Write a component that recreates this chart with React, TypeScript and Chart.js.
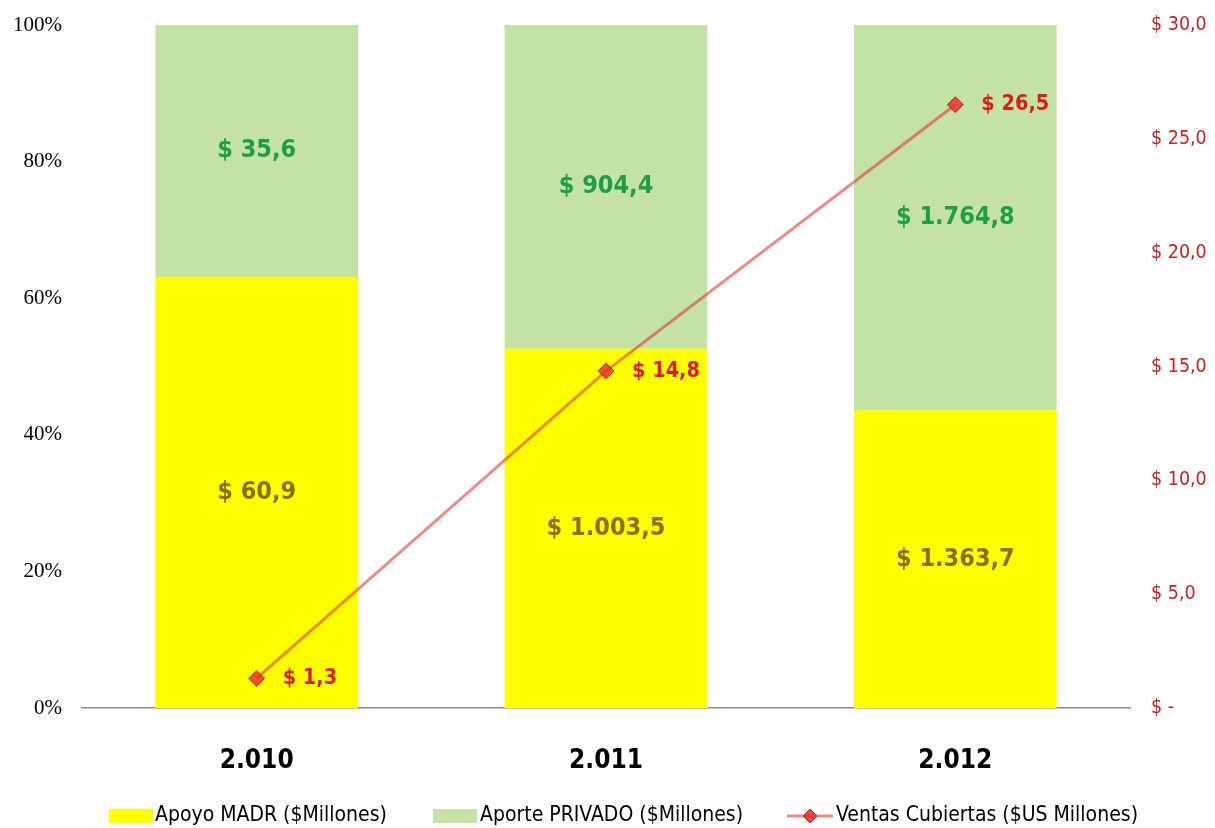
import React, { useEffect, useRef } from "react";
import { Chart, registerables } from "chart.js";

Chart.register(...registerables);

const categories = ["2.010", "2.011", "2.012"];
const apoyoMADR = [60.9, 1003.5, 1363.7];
const aportePrivado = [35.6, 904.4, 1764.8];
const ventasCubiertas = [1.3, 14.8, 26.5];
const apoyoLabels = ["$ 60,9", "$ 1.003,5", "$ 1.363,7"];
const privadoLabels = ["$ 35,6", "$ 904,4", "$ 1.764,8"];
const ventasLabels = ["$ 1,3", "$ 14,8", "$ 26,5"];
const legendLabels = [
  "Apoyo MADR ($Millones)",
  "Aporte PRIVADO ($Millones)",
  "Ventas Cubiertas ($US Millones)",
];

const SANS = "'Liberation Sans Narrow', 'DejaVu Sans Condensed', Lato, sans-serif";
const SERIF = "'Liberation Serif', 'DejaVu Serif', serif";

const totals = apoyoMADR.map((v, i) => v + aportePrivado[i]);
const apoyoPct = apoyoMADR.map((v, i) => (v / totals[i]) * 100);
const privadoPct = aportePrivado.map((v, i) => (v / totals[i]) * 100);

const labelsPlugin = {
  id: "customLabels",
  afterDatasetsDraw(chart: any) {
    const ctx = chart.ctx;
    ctx.save();
    ctx.textBaseline = "middle";
    const metaA = chart.getDatasetMeta(0);
    const metaP = chart.getDatasetMeta(1);
    ctx.font = `bold 25px ${SANS}`;
    ctx.textAlign = "center";
    metaA.data.forEach((el: any, i: number) => {
      const cy = (el.y + el.base) / 2;
      ctx.fillStyle = "#8E6C12";
      ctx.fillText(apoyoLabels[i], el.x, cy);
    });
    metaP.data.forEach((el: any, i: number) => {
      const cy = (el.y + el.base) / 2;
      ctx.fillStyle = "#1E9E4A";
      ctx.fillText(privadoLabels[i], el.x, cy);
    });
    ctx.restore();
  },
  afterDraw(chart: any) {
    const ctx = chart.ctx;
    ctx.save();
    ctx.textBaseline = "middle";
    const metaL = chart.getDatasetMeta(2);
    ctx.font = `bold 21.5px ${SANS}`;
    ctx.textAlign = "left";
    ctx.fillStyle = "#E01A1A";
    metaL.data.forEach((el: any, i: number) => {
      ctx.fillText(ventasLabels[i], el.x + 26, el.y);
    });

    // legend
    const ly = 816;
    ctx.font = `21px ${SANS}`;
    ctx.textAlign = "left";
    ctx.fillStyle = "#FFFF00";
    ctx.fillRect(109, ly - 7, 44, 14);
    ctx.fillStyle = "#000";
    ctx.fillText(legendLabels[0], 155, ly);
    ctx.fillStyle = "#C3E2A3";
    ctx.fillRect(433, ly - 7, 44, 14);
    ctx.fillStyle = "#000";
    ctx.fillText(legendLabels[1], 480, ly);
    ctx.strokeStyle = "rgba(225,60,60,0.6)";
    ctx.lineWidth = 3;
    ctx.beginPath();
    ctx.moveTo(787, ly);
    ctx.lineTo(833, ly);
    ctx.stroke();
    ctx.fillStyle = "rgba(228,40,40,0.85)";
    ctx.strokeStyle = "rgba(180,30,30,0.9)";
    ctx.lineWidth = 1;
    ctx.beginPath();
    ctx.moveTo(810, ly - 7);
    ctx.lineTo(817, ly);
    ctx.lineTo(810, ly + 7);
    ctx.lineTo(803, ly);
    ctx.closePath();
    ctx.fill();
    ctx.stroke();
    ctx.fillStyle = "#000";
    ctx.fillText(legendLabels[2], 836, ly);
    ctx.restore();
  },
};

export default function App() {
  const ref = useRef<HTMLCanvasElement | null>(null);
  useEffect(() => {
    document.body.style.margin = "0";
    const canvas = ref.current;
    if (!canvas) return;
    const chart = new Chart(canvas, {
      data: {
        labels: categories,
        datasets: [
          {
            type: "bar",
            label: legendLabels[0],
            data: apoyoPct,
            backgroundColor: "#FFFF00",
            yAxisID: "y",
            stack: "s",
            barPercentage: 0.58,
            categoryPercentage: 1,
            order: 2,
          },
          {
            type: "bar",
            label: legendLabels[1],
            data: privadoPct,
            backgroundColor: "#C3E2A3",
            yAxisID: "y",
            stack: "s",
            barPercentage: 0.58,
            categoryPercentage: 1,
            order: 2,
          },
          {
            type: "line",
            label: legendLabels[2],
            data: ventasCubiertas,
            yAxisID: "y1",
            borderColor: "rgba(225,60,60,0.6)",
            borderWidth: 3,
            pointStyle: "rectRot",
            pointRadius: 8,
            pointBackgroundColor: "rgba(232,40,40,0.8)",
            pointBorderColor: "rgba(180,30,30,0.9)",
            pointBorderWidth: 1,
            fill: false,
            order: 1,
          },
        ],
      } as any,
      options: {
        animation: false,
        responsive: false,
        maintainAspectRatio: false,
        layout: { padding: { top: 25, left: 0, right: 0, bottom: 0 } },
        plugins: { legend: { display: false }, tooltip: { enabled: false } },
        scales: {
          x: {
            stacked: true,
            grid: { display: false, drawTicks: false },
            border: { display: true, color: "#8A8A8A", width: 1.5 },
            ticks: {
              padding: 38,
              color: "#000",
              font: { family: SANS, size: 26, weight: "bold" },
            },
            afterFit: (s: any) => {
              s.height = 120;
              s.paddingLeft = 0;
              s.paddingRight = 0;
            },
          },
          y: {
            stacked: true,
            position: "left",
            min: 0,
            max: 100,
            grid: { display: false, drawTicks: false },
            border: { display: false },
            ticks: {
              stepSize: 20,
              padding: 20,
              color: "#000",
              font: { family: SERIF, size: 21 },
              callback: (v: any) => `${v}%`,
            },
            afterFit: (s: any) => {
              s.width = 82;
              s.paddingTop = 0;
              s.paddingBottom = 0;
            },
          },
          y1: {
            position: "right",
            min: 0,
            max: 30,
            grid: { display: false, drawTicks: false },
            border: { display: false },
            ticks: {
              stepSize: 5,
              padding: 21,
              color: "#CC1F1F",
              font: { family: SANS, size: 19.5 },
              callback: (v: any) =>
                v === 0 ? "$ -" : `$ ${Number(v).toFixed(1).replace(".", ",")}`,
            },
            afterFit: (s: any) => {
              s.width = 85;
              s.paddingTop = 0;
              s.paddingBottom = 0;
            },
          },
        },
      } as any,
      plugins: [labelsPlugin],
    });
    return () => chart.destroy();
  }, []);
  return (
    <div style={{ width: 1215, height: 828 }}>
      <canvas ref={ref} width={1215} height={828} style={{ display: "block" }} />
    </div>
  );
}
